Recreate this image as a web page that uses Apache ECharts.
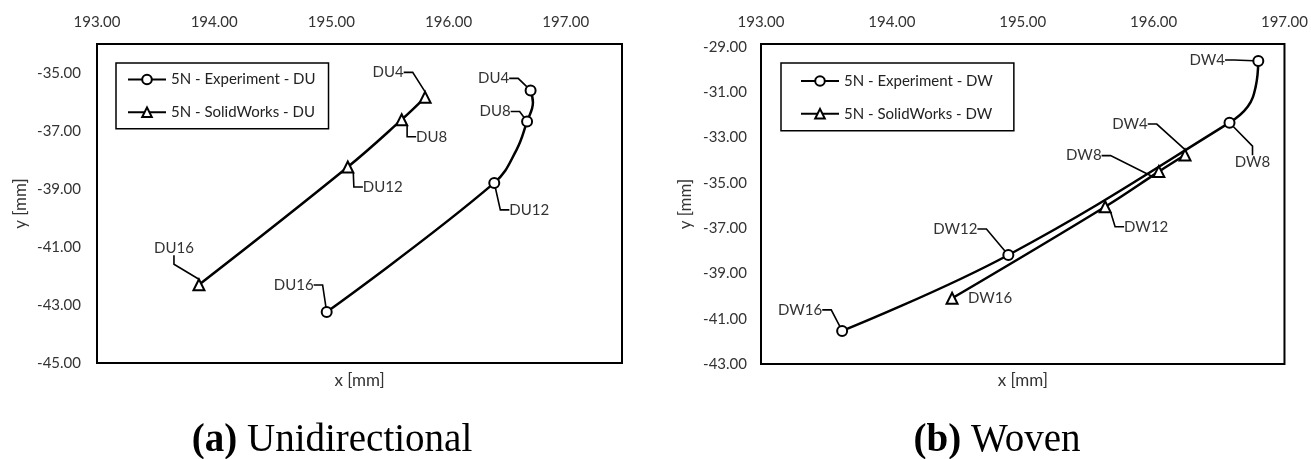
<!DOCTYPE html>
<html>
<head>
<meta charset="utf-8">
<script src="https://cdn.jsdelivr.net/npm/echarts@6/dist/echarts.min.js"></script>
<style>
  html, body { margin: 0; padding: 0; background: #fff; }
  #chart { width: 1311px; height: 459px; }
</style>
</head>
<body>
<div id="chart"></div>
<script>
  // (a) Unidirectional - experiment path (unnamed points carry no marker)
  const duExpX = [196.70, 196.72, 196.67, 196.58, 196.39, 194.96]
  const duExpY = [-35.60, -36.02, -36.67, -37.65, -38.79, -43.24]
  const duExpNames = ['DU4', '', 'DU8', '', 'DU12', 'DU16']
  // (a) Unidirectional - SolidWorks
  const duSwX = [195.80, 195.60, 195.14, 193.87]
  const duSwY = [-35.84, -36.61, -38.24, -42.30]
  const duSwNames = ['DU4', 'DU8', 'DU12', 'DU16']

  // (b) Woven - experiment
  const dwExpX = [196.80, 196.78, 196.72, 196.58, 194.89, 193.62]
  const dwExpY = [-29.63, -30.76, -31.64, -32.35, -38.19, -41.54]
  const dwExpNames = ['DW4', '', '', 'DW8', 'DW12', 'DW16']
  // (b) Woven - SolidWorks
  const dwSwX = [196.24, 196.04, 195.63, 194.46]
  const dwSwY = [-33.78, -34.51, -36.06, -40.10]
  const dwSwNames = ['DW4', 'DW8', 'DW12', 'DW16']

  // tick labels
  const xTicks = [193, 194, 195, 196, 197]
  const duYTicks = [-45, -43, -41, -39, -37, -35]
  const dwYTicks = [-43, -41, -39, -37, -35, -33, -31, -29]

  // where each callout text sits, relative to its marker (px)
  const calloutOffsets = {
    duExp: { DU4: [-37, -12], DU8: [-32, -10], DU12: [35, 27], DU16: [-33, -27] },
    duSw: { DU4: [-37, -25], DU8: [30, 17], DU12: [35, 20], DU16: [-25, -37] },
    dwExp: { DW4: [-51, -1], DW8: [23, 40], DW12: [-53, -26], DW16: [-42, -21] },
    dwSw: { DW4: [-55, -31], DW8: [-75, -16], DW12: [41, 20], DW16: [38, 0, 'noLine'] }
  }

  const FONT = 'Lato'
  const TEXT = '#333'

  const makeSeries = (name, xs, ys, names, symbol, size, offsets, gridIndex) => {
    return {
      name,
      type: 'line',
      xAxisIndex: gridIndex * 2,
      yAxisIndex: gridIndex,
      smooth: 0.4,
      symbol,
      symbolSize: size,
      lineStyle: { color: '#000', width: 2.5 },
      itemStyle: { color: '#000', borderColor: '#000', borderWidth: 1.5 },
      label: {
        show: true, formatter: '{b}', position: 'top', padding: [1, 4],
        fontFamily: FONT, fontSize: 15, color: TEXT
      },
      labelLine: { show: true, length2: 9, lineStyle: { color: '#000', width: 1.6 } },
      labelLayout: (p) => {
        const o = offsets[p.text]
        if (!o) return {}
        return {
          x: p.rect.x + p.rect.width / 2 + o[0],
          y: p.rect.y + p.rect.height / 2 + o[1],
          align: 'center',
          verticalAlign: 'middle'
        }
      },
      data: xs.map((x, i) => {
        if (!names[i]) return { name: '', value: [x, ys[i]], symbol: 'none' }
        const item = { name: names[i], value: [x, ys[i]] }
        if (offsets[names[i]] && offsets[names[i]][2] === 'noLine') item.labelLine = { show: false }
        return item
      }),
      z: 3
    }
  }

  const topXAxis = (gridIndex, max) => ({
    type: 'value',
    gridIndex,
    position: 'top',
    min: 193,
    max,
    axisLine: { show: false },
    axisTick: { show: false },
    splitLine: { show: false },
    axisLabel: {
      customValues: xTicks,
      formatter: v => v.toFixed(2),
      margin: 14,
      fontFamily: FONT,
      fontSize: 15,
      color: TEXT
    }
  })

  const nameXAxis = (gridIndex, max, gap) => ({
    type: 'value',
    gridIndex,
    position: 'bottom',
    min: 193,
    max,
    axisLine: { show: false },
    axisTick: { show: false },
    splitLine: { show: false },
    axisLabel: { show: false },
    name: 'x [mm]',
    nameLocation: 'middle',
    nameGap: gap,
    nameTextStyle: { fontFamily: FONT, fontSize: 17, color: TEXT }
  })

  const makeYAxis = (gridIndex, min, max, ticks, margin, gap) => ({
    type: 'value',
    gridIndex,
    min,
    max,
    axisLine: { show: false },
    axisTick: { show: false },
    splitLine: { show: false },
    axisLabel: {
      customValues: ticks,
      formatter: v => v.toFixed(2),
      margin,
      fontFamily: FONT,
      fontSize: 15,
      color: TEXT
    },
    name: 'y [mm]',
    nameLocation: 'middle',
    nameGap: gap,
    nameTextStyle: { fontFamily: FONT, fontSize: 17, color: TEXT }
  })

  const makeLegend = (left, top, padding, data) => ({
    left,
    top,
    orient: 'vertical',
    data,
    selectedMode: false,
    padding,
    itemGap: 17.7,
    itemWidth: 38,
    itemHeight: 12,
    borderColor: '#000',
    borderWidth: 1.5,
    backgroundColor: '#fff',
    textStyle: { fontFamily: FONT, fontSize: 15, color: '#222' }
  })

  const chart = echarts.init(document.getElementById('chart'))
  chart.setOption({
    animation: false,
    backgroundColor: '#fff',
    grid: [
      { left: 97, top: 44, width: 525, height: 319, show: true, borderColor: '#000', borderWidth: 2 },
      { left: 761, top: 44, width: 524.5, height: 320, show: true, borderColor: '#000', borderWidth: 2 }
    ],
    xAxis: [
      topXAxis(0, 197.48),
      nameXAxis(0, 197.48, 9),
      topXAxis(1, 197),
      nameXAxis(1, 197, 8)
    ],
    yAxis: [
      makeYAxis(0, -45, -34, duYTicks, 16, 68),
      makeYAxis(1, -43, -28.88, dwYTicks, 14, 66.5)
    ],
    legend: [
      makeLegend(116, 63, [9, 13, 9, 11], ['5N - Experiment - DU', '5N - SolidWorks - DU']),
      makeLegend(781, 63, [10.5, 21, 9.5, 19], ['5N - Experiment - DW', '5N - SolidWorks - DW'])
    ],
    graphic: [
      {
        type: 'text', x: 332, y: 441,
        style: {
          text: '{b|(a)} Unidirectional',
          fontFamily: 'Liberation Serif', fontSize: 39, fill: '#000',
          align: 'center', verticalAlign: 'middle',
          rich: { b: { fontFamily: 'Liberation Serif', fontSize: 39, fontWeight: 'bold', fill: '#000' } }
        }
      },
      {
        type: 'text', x: 997, y: 441,
        style: {
          text: '{b|(b)} Woven',
          fontFamily: 'Liberation Serif', fontSize: 39, fill: '#000',
          align: 'center', verticalAlign: 'middle',
          rich: { b: { fontFamily: 'Liberation Serif', fontSize: 39, fontWeight: 'bold', fill: '#000' } }
        }
      }
    ],
    series: [
      makeSeries('5N - Experiment - DU', duExpX, duExpY, duExpNames, 'emptyCircle', 10, calloutOffsets.duExp, 0),
      makeSeries('5N - SolidWorks - DU', duSwX, duSwY, duSwNames, 'emptyTriangle', 11, calloutOffsets.duSw, 0),
      makeSeries('5N - Experiment - DW', dwExpX, dwExpY, dwExpNames, 'emptyCircle', 10, calloutOffsets.dwExp, 1),
      makeSeries('5N - SolidWorks - DW', dwSwX, dwSwY, dwSwNames, 'emptyTriangle', 11, calloutOffsets.dwSw, 1)
    ]
  })
</script>
</body>
</html>
